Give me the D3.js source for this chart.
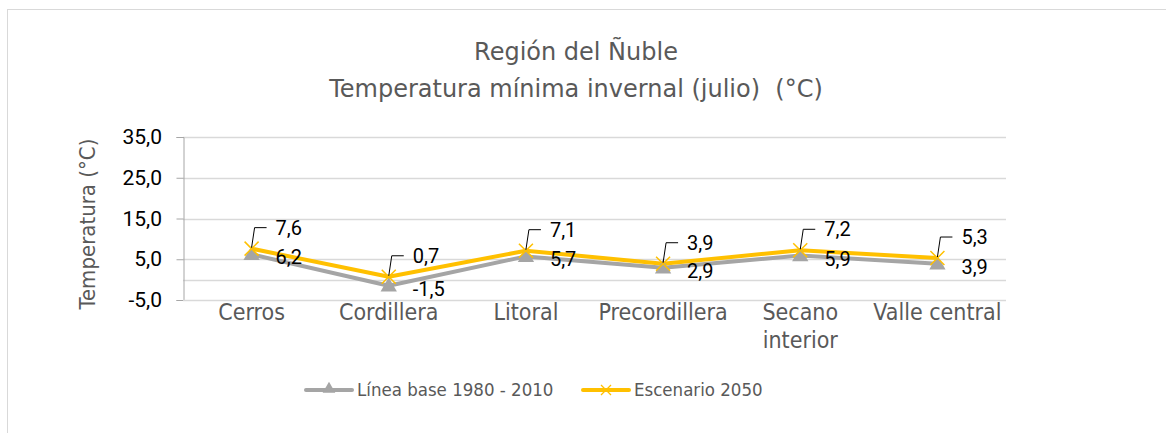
<!DOCTYPE html>
<html><head><meta charset="utf-8">
<script src="https://cdn.jsdelivr.net/npm/d3@7"></script>
<style>
body{margin:0;background:#fff;}
svg{display:block;}
text{white-space:pre;}
</style></head>
<body>
<script>
const categories = ["Cerros","Cordillera","Litoral","Precordillera","Secano interior","Valle central"];
const baseValues = [6.2,-1.5,5.7,2.9,5.9,3.9];
const scenarioValues = [7.6,0.7,7.1,3.9,7.2,5.3];
const yTicks = [-5,5,15,25,35];
const gridValues = [0,5,15,25,35];
const seriesNames = ["Línea base 1980 - 2010","Escenario 2050"];
const titleLines = ["Región del Ñuble","Temperatura mínima invernal (julio)  (°C)"];
const yTitle = "Temperatura (°C)";

const W=1166,H=433;
const m={left:183,right:1006,top:137,bottom:300};
const grayFont = "'DejaVu Sans', Verdana, sans-serif";
const condFont = "'DejaVu Sans Condensed', 'DejaVu Sans', sans-serif";
const numFont = "Roboto, sans-serif";
const gray="#595959";
const cBase="#a5a5a5", cScen="#ffc000";

const svg=d3.select("body").append("svg").attr("width",W).attr("height",H);
svg.append("rect").attr("x",7.5).attr("y",9.5).attr("width",1300).attr("height",600)
  .attr("fill","#fff").attr("stroke","#d9d9d9").attr("stroke-width",1);

const x=d3.scaleBand().domain(categories).range([m.left,m.right]);
const y=d3.scaleLinear().domain([-5,35]).range([m.bottom,m.top]);
const fmt=v=>d3.format(".1f")(v).replace(".",",").replace("\u2212","-");

// title
svg.append("g").selectAll("text").data(titleLines).join("text")
  .attr("x",576).attr("y",(d,i)=>60+i*37).attr("text-anchor","middle")
  .attr("font-family",grayFont).attr("font-size",24).attr("fill",gray).text(d=>d);

// grid
svg.append("g").selectAll("line").data(gridValues).join("line")
  .attr("x1",m.left).attr("x2",m.right).attr("y1",d=>Math.round(y(d))+0.5).attr("y2",d=>Math.round(y(d))+0.5)
  .attr("stroke","#d9d9d9").attr("stroke-width",1.5);

// y axis
const yAxis=d3.axisLeft(y).tickValues(yTicks).tickSize(7).tickFormat(fmt);
const ga=svg.append("g").attr("transform",`translate(${m.left+0.5},0)`).call(yAxis);
ga.select(".domain").attr("stroke","#a6a6a6");
ga.selectAll(".tick line").attr("stroke","#a6a6a6");
ga.selectAll(".tick text").attr("font-family",numFont).attr("font-size",21).attr("fill","#000").attr("x",-21.5);

// x axis bottom line
svg.append("line").attr("x1",m.left).attr("x2",m.right).attr("y1",m.bottom+0.5).attr("y2",m.bottom+0.5)
  .attr("stroke","#d9d9d9").attr("stroke-width",1.5);

// x labels
const xl=svg.append("g").selectAll("text").data(categories).join("text")
  .attr("x",d=>x(d)+x.bandwidth()/2).attr("y",320).attr("text-anchor","middle")
  .attr("font-family",condFont).attr("font-size",23).attr("fill",gray);
xl.each(function(d){
  const t=d3.select(this);
  const words=d.split(" ");
  let line=[],lines=[];
  const tmp=t.append("tspan");
  words.forEach(w=>{
    const test=line.concat([w]).join(" ");
    tmp.text(test);
    if(tmp.node().getComputedTextLength()>x.bandwidth()-4 && line.length){lines.push(line.join(" "));line=[w];}
    else line.push(w);
  });
  lines.push(line.join(" "));
  tmp.remove();
  lines.forEach((l,i)=>t.append("tspan").attr("x",x(d)+x.bandwidth()/2).attr("dy",i?28:0).text(l));
});

// y title
svg.append("text").attr("transform",`translate(95,224) rotate(-90)`).attr("text-anchor","middle")
  .attr("font-family",condFont).attr("font-size",22).attr("fill",gray).text(yTitle);

const cx=d=>x(d)+x.bandwidth()/2;
const line=d3.line().x((d,i)=>cx(categories[i])).y(d=>y(d));

svg.append("path").datum(baseValues).attr("d",line).attr("fill","none").attr("stroke",cBase).attr("stroke-width",4).attr("stroke-linejoin","round");
svg.append("path").datum(scenarioValues).attr("d",line).attr("fill","none").attr("stroke",cScen).attr("stroke-width",4).attr("stroke-linejoin","round");

const tri=d3.symbol().type(d3.symbolTriangle).size(115);
svg.append("g").selectAll("path").data(baseValues).join("path")
  .attr("transform",(d,i)=>`translate(${cx(categories[i])},${y(d)+1})`).attr("d",tri).attr("fill",cBase);

const xs=7;
svg.append("g").selectAll("path").data(scenarioValues).join("path")
  .attr("d",(d,i)=>{const X=cx(categories[i]),Y=y(d);return `M${X-xs},${Y-xs}L${X+xs},${Y+xs}M${X-xs},${Y+xs}L${X+xs},${Y-xs}`;})
  .attr("stroke",cScen).attr("stroke-width",1.5).attr("fill","none");

// base labels
svg.append("g").selectAll("text").data(baseValues).join("text")
  .attr("x",(d,i)=>cx(categories[i])+24).attr("y",d=>y(d)+3).attr("dy","0.35em")
  .attr("font-family",numFont).attr("font-size",20).attr("fill","#000").text(fmt);
// scenario labels with leader
svg.append("g").selectAll("path").data(scenarioValues).join("path")
  .attr("d",(d,i)=>{const X=cx(categories[i]),Y=y(d);return `M${X},${Y-1}L${X+3},${Y-21}L${X+15},${Y-21}`;})
  .attr("stroke","#000").attr("stroke-width",1).attr("fill","none");
svg.append("g").selectAll("text").data(scenarioValues).join("text")
  .attr("x",(d,i)=>cx(categories[i])+24).attr("y",d=>y(d)-21).attr("dy","0.35em")
  .attr("font-family",numFont).attr("font-size",20).attr("fill","#000").text(fmt);

// legend
const lg=svg.append("g");
const legItems=[{name:seriesNames[0],c:cBase,x0:306,m:"tri"},{name:seriesNames[1],c:cScen,x0:583,m:"x"}];
legItems.forEach(it=>{
  const ly=390;
  lg.append("line").attr("x1",it.x0).attr("x2",it.x0+46).attr("y1",ly).attr("y2",ly).attr("stroke",it.c).attr("stroke-width",4).attr("stroke-linecap","round");
  if(it.m==="tri") lg.append("path").attr("transform",`translate(${it.x0+23},${ly-1})`).attr("d",d3.symbol().type(d3.symbolTriangle).size(70)).attr("fill",it.c);
  else lg.append("path").attr("d",`M${it.x0+18},${ly-5}L${it.x0+28},${ly+5}M${it.x0+18},${ly+5}L${it.x0+28},${ly-5}`).attr("stroke",it.c).attr("stroke-width",1.3);
  lg.append("text").attr("x",it.x0+51).attr("y",ly).attr("dy","0.35em").attr("font-family",condFont).attr("font-size",18.5).attr("fill",gray).text(it.name);
});
</script>
</body></html>
